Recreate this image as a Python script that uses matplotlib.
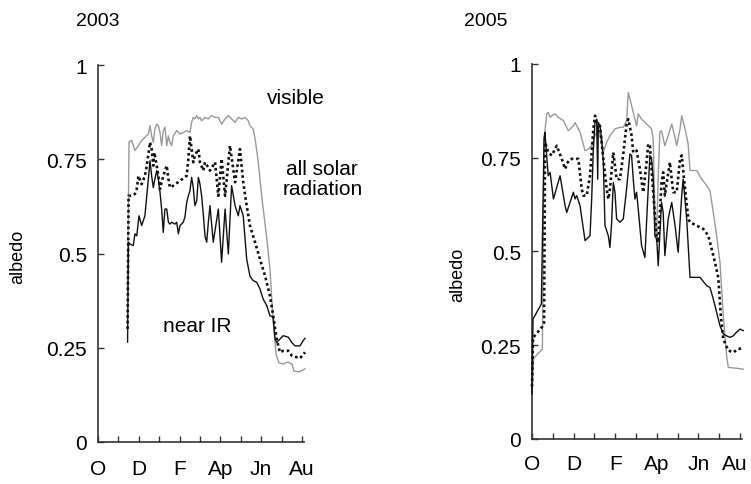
import matplotlib.pyplot as plt
from matplotlib.transforms import ScaledTranslation

plt.rcParams['font.family'] = ['Liberation Sans', 'DejaVu Sans']
plt.rcParams['font.size'] = 15

month_labels = ['O', '', 'D', '', 'F', '', 'Ap', '', 'Jn', '', 'Au']
y_ticks = [0, 0.25, 0.5, 0.75, 1]
y_labels = ['0', '0.25', '0.5', '0.75', '1']

# x = months since 1 October
# 2003
vis03_x = [1.45, 1.52, 1.65, 1.81, 1.98, 2.14, 2.30, 2.47, 2.55, 2.63, 2.71, 2.79, 2.88, 2.96, 3.04, 3.12,
           3.20, 3.28, 3.37, 3.45, 3.53, 3.61, 3.69, 3.86, 4.02, 4.18, 4.35, 4.51, 4.59, 4.67, 4.75, 4.84,
           4.92, 5.00, 5.08, 5.25, 5.41, 5.57, 5.74, 5.90, 6.06, 6.23, 6.39, 6.55, 6.72, 6.88, 7.04, 7.21,
           7.37, 7.45, 7.61, 7.70, 7.84, 8.04, 8.28, 8.43, 8.58, 8.73, 8.87, 9.07, 9.31, 9.51, 9.61, 9.85, 10.15]
vis03_y = [0.40, 0.796, 0.80, 0.773, 0.786, 0.80, 0.808, 0.817, 0.839, 0.812, 0.795, 0.83, 0.843, 0.839, 0.821, 0.786,
           0.826, 0.835, 0.786, 0.812, 0.795, 0.786, 0.812, 0.826, 0.817, 0.821, 0.826, 0.821, 0.848, 0.861, 0.857, 0.866,
           0.857, 0.861, 0.852, 0.861, 0.857, 0.866, 0.861, 0.861, 0.843, 0.857, 0.866, 0.857, 0.848, 0.861, 0.857, 0.861,
           0.852, 0.839, 0.830, 0.804, 0.751, 0.645, 0.538, 0.459, 0.326, 0.233, 0.21, 0.207, 0.212, 0.207, 0.188, 0.186, 0.194]

all03_x = [1.45, 1.50, 1.65, 1.81, 1.90, 1.98, 2.14, 2.30, 2.39, 2.47, 2.55, 2.63, 2.71, 2.76, 2.88, 2.96,
           3.04, 3.20, 3.37, 3.45, 3.53, 3.69, 4.02, 4.35, 4.43, 4.51, 4.59, 4.67, 4.75, 4.92, 5.00, 5.16,
           5.25, 5.49, 5.74, 5.90, 6.06, 6.23, 6.47, 6.72, 6.96, 7.12, 7.29, 7.45, 7.70, 7.94, 8.19, 8.43,
           8.59, 8.76, 8.92, 9.08, 9.33, 9.50, 9.90, 10.15]
all03_y = [0.30, 0.653, 0.653, 0.658, 0.671, 0.706, 0.684, 0.706, 0.733, 0.764, 0.795, 0.777, 0.733, 0.768, 0.733, 0.706,
           0.671, 0.706, 0.733, 0.698, 0.675, 0.68, 0.693, 0.706, 0.751, 0.812, 0.777, 0.742, 0.76, 0.777, 0.742, 0.72,
           0.742, 0.72, 0.742, 0.653, 0.751, 0.653, 0.786, 0.689, 0.777, 0.689, 0.627, 0.574, 0.53, 0.485, 0.441, 0.388,
           0.335, 0.273, 0.238, 0.242, 0.242, 0.229, 0.222, 0.238]

nir03_x = [1.45, 1.49, 1.57, 1.73, 1.81, 1.90, 2.01, 2.14, 2.30, 2.39, 2.47, 2.55, 2.63, 2.71, 2.79, 2.88,
           2.96, 3.04, 3.12, 3.20, 3.28, 3.37, 3.45, 3.53, 3.61, 3.77, 3.86, 3.94, 4.02, 4.18, 4.26, 4.35,
           4.43, 4.51, 4.59, 4.67, 4.75, 4.84, 4.92, 5.00, 5.08, 5.16, 5.25, 5.33, 5.41, 5.49, 5.65, 5.90,
           6.06, 6.23, 6.39, 6.55, 6.72, 6.88, 6.96, 7.12, 7.29, 7.45, 7.61, 7.78, 7.94, 8.10, 8.27, 8.43,
           8.59, 8.68, 8.76, 8.92, 9.08, 9.33, 9.50, 9.66, 9.90, 10.06, 10.15]
nir03_y = [0.265, 0.53, 0.525, 0.521, 0.552, 0.547, 0.60, 0.574, 0.60, 0.653, 0.698, 0.746, 0.706, 0.675, 0.698, 0.72,
           0.698, 0.662, 0.618, 0.556, 0.618, 0.618, 0.583, 0.578, 0.583, 0.578, 0.583, 0.552, 0.574, 0.583, 0.596, 0.636,
           0.653, 0.667, 0.702, 0.675, 0.627, 0.64, 0.702, 0.684, 0.653, 0.605, 0.545, 0.53, 0.583, 0.627, 0.53, 0.618,
           0.477, 0.618, 0.499, 0.68, 0.627, 0.60, 0.627, 0.60, 0.485, 0.44, 0.428, 0.424, 0.406, 0.379, 0.362, 0.335,
           0.331, 0.273, 0.264, 0.273, 0.282, 0.278, 0.264, 0.255, 0.255, 0.269, 0.275]

# 2005
vis05_x = [0.0, 0.08, 0.50, 0.58, 0.71, 0.78, 0.87, 0.95, 1.11, 1.26, 1.51, 1.75, 1.99, 2.07, 2.15, 2.31,
           2.55, 2.71, 2.87, 3.03, 3.19, 3.27, 3.43, 3.59, 3.75, 3.99, 4.23, 4.39, 4.55, 4.63, 4.79, 4.95,
           5.03, 5.11, 5.27, 5.51, 5.75, 5.83, 5.91, 5.99, 6.07, 6.15, 6.23, 6.39, 6.55, 6.72, 6.88, 6.96,
           7.12, 7.20, 7.36, 7.51, 7.60, 7.92, 8.16, 8.40, 8.56, 8.72, 8.88, 9.04, 9.20, 9.36, 9.44, 10.08, 10.16]
vis05_y = [0.12, 0.215, 0.24, 0.80, 0.867, 0.871, 0.858, 0.862, 0.867, 0.858, 0.849, 0.822, 0.835, 0.844, 0.835, 0.818,
           0.769, 0.773, 0.782, 0.809, 0.827, 0.809, 0.765, 0.791, 0.809, 0.827, 0.831, 0.831, 0.849, 0.924, 0.889, 0.853,
           0.835, 0.867, 0.853, 0.84, 0.827, 0.80, 0.60, 0.53, 0.70, 0.818, 0.822, 0.782, 0.809, 0.84, 0.804, 0.782,
           0.827, 0.862, 0.827, 0.787, 0.716, 0.716, 0.693, 0.676, 0.662, 0.604, 0.542, 0.471, 0.33, 0.222, 0.191, 0.187, 0.186]

all05_x = [0.0, 0.05, 0.50, 0.58, 0.63, 0.78, 0.95, 1.19, 1.43, 1.59, 1.75, 1.91, 2.23, 2.39, 2.47, 2.63,
           2.79, 2.87, 2.95, 3.03, 3.19, 3.27, 3.43, 3.59, 3.67, 3.75, 3.91, 4.07, 4.23, 4.39, 4.55, 4.63,
           4.79, 4.87, 5.03, 5.19, 5.35, 5.51, 5.59, 5.67, 5.83, 6.00, 6.07, 6.23, 6.31, 6.39, 6.63, 6.79,
           6.96, 7.12, 7.20, 7.36, 7.52, 7.60, 7.92, 8.24, 8.48, 8.64, 8.80, 8.96, 9.08, 9.20, 9.44, 9.68,
           9.92, 10.16]
all05_y = [0.14, 0.27, 0.30, 0.31, 0.791, 0.764, 0.756, 0.782, 0.747, 0.72, 0.742, 0.747, 0.747, 0.667, 0.649, 0.649,
           0.702, 0.764, 0.827, 0.862, 0.827, 0.835, 0.747, 0.667, 0.64, 0.667, 0.764, 0.693, 0.693, 0.76, 0.84, 0.853,
           0.809, 0.764, 0.769, 0.72, 0.658, 0.738, 0.787, 0.782, 0.658, 0.533, 0.524, 0.684, 0.711, 0.649, 0.738, 0.658,
           0.658, 0.747, 0.756, 0.667, 0.587, 0.578, 0.569, 0.56, 0.542, 0.507, 0.471, 0.43, 0.33, 0.267, 0.236, 0.231,
           0.24, 0.242]

nir05_x = [0.0, 0.05, 0.45, 0.58, 0.62, 0.78, 0.87, 1.03, 1.35, 1.59, 1.67, 1.99, 2.07, 2.15, 2.31, 2.47,
           2.55, 2.79, 2.87, 2.95, 3.03, 3.11, 3.16, 3.19, 3.27, 3.35, 3.43, 3.51, 3.67, 3.75, 3.83, 3.91,
           3.99, 4.07, 4.23, 4.39, 4.55, 4.71, 4.79, 4.87, 4.95, 5.03, 5.11, 5.27, 5.43, 5.51, 5.67, 5.75,
           5.83, 5.91, 6.00, 6.07, 6.23, 6.31, 6.39, 6.55, 6.72, 6.88, 7.03, 7.20, 7.27, 7.44, 7.60, 8.08,
           8.40, 8.56, 8.72, 8.88, 9.04, 9.20, 9.36, 9.52, 9.68, 9.84, 10.00, 10.16]
nir05_y = [0.12, 0.32, 0.36, 0.80, 0.818, 0.702, 0.711, 0.64, 0.702, 0.622, 0.604, 0.658, 0.64, 0.649, 0.622, 0.56,
           0.529, 0.542, 0.64, 0.773, 0.844, 0.853, 0.693, 0.844, 0.835, 0.80, 0.738, 0.569, 0.542, 0.511, 0.578, 0.684,
           0.658, 0.587, 0.578, 0.587, 0.667, 0.76, 0.756, 0.693, 0.64, 0.658, 0.613, 0.516, 0.484, 0.578, 0.756, 0.747,
           0.693, 0.542, 0.533, 0.462, 0.631, 0.604, 0.489, 0.587, 0.631, 0.569, 0.498, 0.649, 0.693, 0.587, 0.431, 0.431,
           0.409, 0.404, 0.373, 0.338, 0.302, 0.28, 0.275, 0.271, 0.275, 0.285, 0.293, 0.289]

fig = plt.figure(figsize=(7.51, 4.85), dpi=100)
ax1 = fig.add_axes([0.1305, 0.0866, 0.2743, 0.7773])
ax2 = fig.add_axes([0.7084, 0.0928, 0.2796, 0.7732])

panels = [
    (ax1, vis03_x, vis03_y, all03_x, all03_y, nir03_x, nir03_y, 12),
    (ax2, vis05_x, vis05_y, all05_x, all05_y, nir05_x, nir05_y, 11),
]
for ax, vx, vy, ax_, ay, nx, ny, xpad in panels:
    ax.plot(vx, vy, color='#999999', lw=1.0, zorder=2)
    ax.plot(ax_, ay, color='#111111', lw=1.9, linestyle=(0, (1.0, 1.1)), zorder=3)
    ax.plot(nx, ny, color='#111111', lw=1.0, zorder=4)
    ax.set_xlim(0, 10.1)
    ax.set_ylim(0, 1)
    ax.set_xticks(range(11))
    ax.set_xticklabels(month_labels)
    ax.set_yticks(y_ticks)
    ax.set_yticklabels(y_labels)
    for s in ['top', 'right']:
        ax.spines[s].set_visible(False)
    for s in ['left', 'bottom']:
        ax.spines[s].set_color('#333333')
        ax.spines[s].set_linewidth(1.2)
    ax.tick_params(direction='in', length=4, width=1, color='#333333', labelsize=15)
    ax.tick_params(axis='y', pad=8)
    ax.tick_params(axis='x', pad=xpad)
    for line in ax.get_lines():
        line.set_clip_on(False)

# keep the last month label of the right panel inside the figure
au = ax2.get_xticklabels()[-1]
au.set_transform(au.get_transform() + ScaledTranslation(-4 / 72, 0, fig.dpi_scale_trans))

ax1.text(9.7, 0.915, 'visible', ha='center', va='center', fontsize=15)
ax1.text(11.0, 0.698, 'all solar\nradiation', ha='center', va='center', fontsize=15,
         linespacing=1.05)
ax1.text(4.85, 0.308, 'near IR', ha='center', va='center', fontsize=15)

fig.text(98 / 751, 1 - 21 / 485, '2003', ha='center', va='center', fontsize=14)
fig.text(486 / 751, 1 - 21 / 485, '2005', ha='center', va='center', fontsize=14)
fig.text(18 / 751, 1 - 257 / 485, 'albedo', rotation=90, ha='center', va='center', fontsize=13)
fig.text(458 / 751, 1 - 275 / 485, 'albedo', rotation=90, ha='center', va='center', fontsize=13)

fig.savefig('out.png', dpi=100)
